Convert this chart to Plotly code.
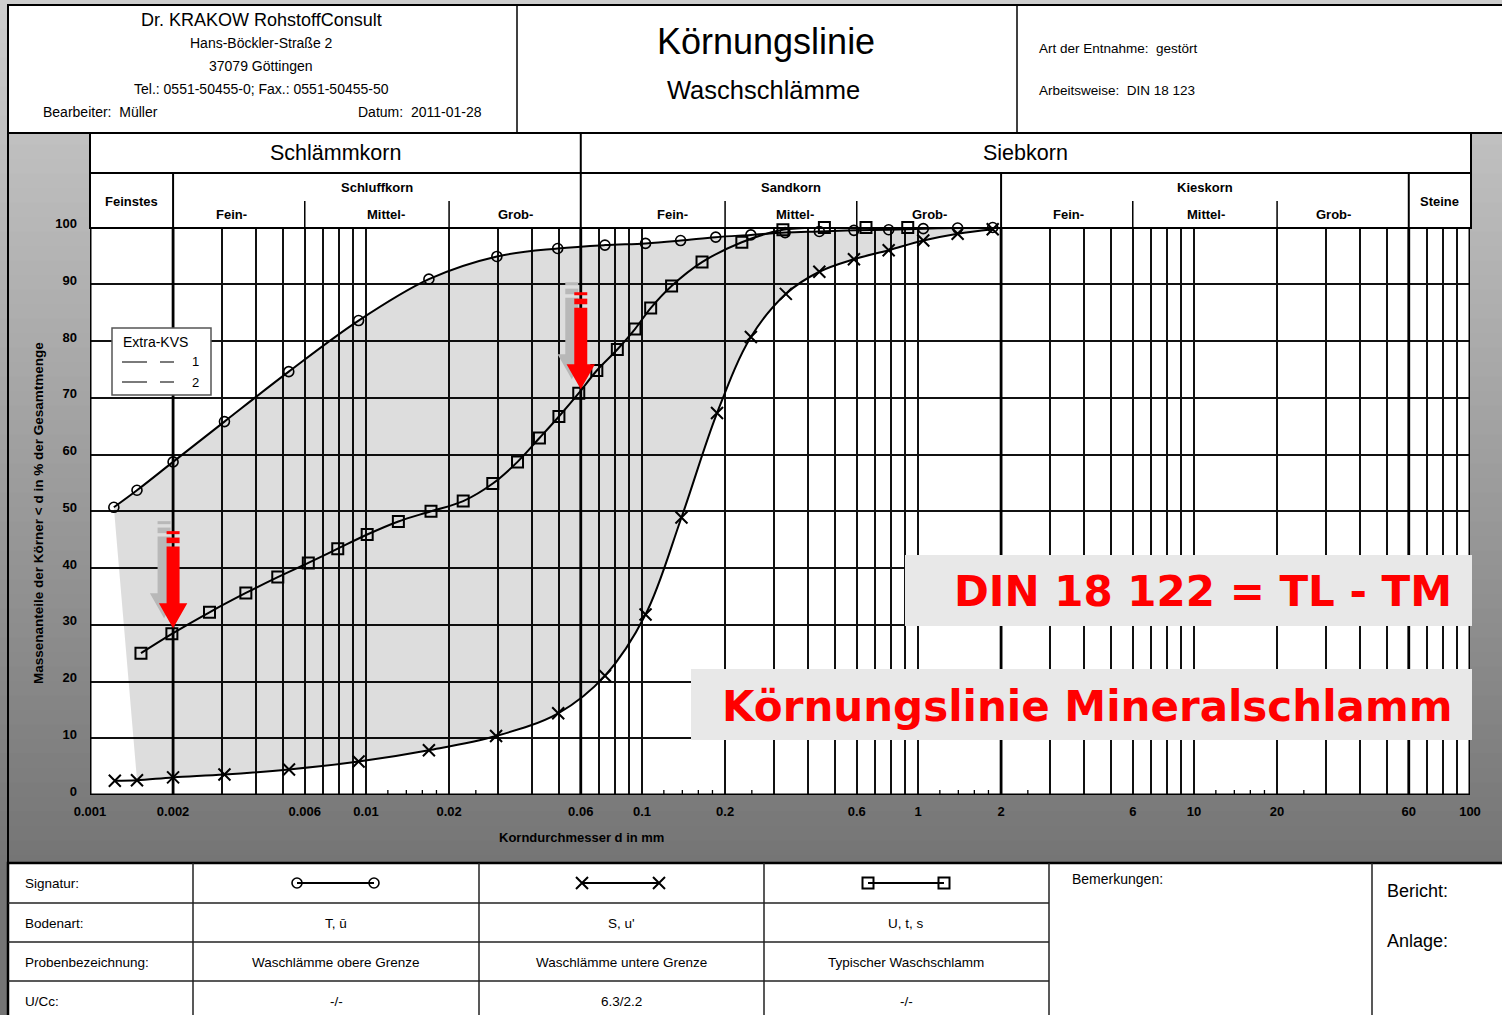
import math
import plotly.graph_objects as go

W, H = 1502, 1015
FONT = "Liberation Sans, Arial, Helvetica, sans-serif"
BIGFONT = "DejaVu Sans, Verdana, sans-serif"

# ---------------- data ----------------
# Waschlämme obere Grenze (circles)
upper_d = [0.00122, 0.00148, 0.002, 0.00307, 0.00525, 0.0094, 0.0169, 0.0298, 0.0495, 0.0734,
           0.103, 0.138, 0.185, 0.248, 0.330, 0.439, 0.586, 0.783, 1.045, 1.392, 1.865]
upper_pct = [50.7, 53.7, 58.7, 65.8, 74.6, 83.6, 90.9, 94.9, 96.3, 96.9,
             97.2, 97.7, 98.3, 98.7, 99.1, 99.3, 99.5, 99.6, 99.8, 99.9, 100.0]
# Waschlämme untere Grenze (crosses)
lower_d = [0.00123, 0.00148, 0.002, 0.00307, 0.00526, 0.0094, 0.0169, 0.0296, 0.0497, 0.0734,
           0.103, 0.139, 0.187, 0.248, 0.332, 0.439, 0.586, 0.783, 1.045, 1.392, 1.865]
lower_pct = [2.5, 2.6, 3.1, 3.6, 4.5, 5.9, 7.9, 10.4, 14.4, 21.0,
             31.8, 48.9, 67.3, 80.7, 88.3, 92.2, 94.4, 96.0, 97.7, 98.9, 99.7]
# Typischer Waschschlamm (squares)
typ_d = [0.00153, 0.00198, 0.00271, 0.00367, 0.00479, 0.00618, 0.0079, 0.0101, 0.0131, 0.0172,
         0.0225, 0.0288, 0.0354, 0.0425, 0.0500, 0.0590, 0.0686, 0.0814, 0.0943, 0.1075,
         0.128, 0.165, 0.230, 0.324, 0.458, 0.648, 0.918]
typ_pct = [25.0, 28.4, 32.2, 35.6, 38.4, 40.9, 43.4, 45.9, 48.2, 50.0,
           51.8, 54.9, 58.7, 62.9, 66.7, 70.8, 74.8, 78.5, 82.1, 85.8,
           89.7, 93.9, 97.4, 99.6, 100.0, 100.0, 100.0]

series_names = ["Waschlämme obere Grenze", "Waschlämme untere Grenze", "Typischer Waschschlamm"]
bodenart = ["T, ū", "S, u'", "U, t, s"]
u_cc = ["-/-", "6.3/2.2", "-/-"]
symbols = ["circle-open", "x-thin", "square-open"]

x_label_vals = [0.001, 0.002, 0.006, 0.01, 0.02, 0.06, 0.1, 0.2, 0.6, 1, 2, 6, 10, 20, 60, 100]
x_label_text = ["0.001", "0.002", "0.006", "0.01", "0.02", "0.06", "0.1", "0.2", "0.6",
                "1", "2", "6", "10", "20", "60", "100"]
y_tick_vals = [0, 10, 20, 30, 40, 50, 60, 70, 80, 90, 100]
minor_vals = [0.012, 0.014, 0.016, 0.018, 0.025, 0.12, 0.14, 0.16, 0.18, 0.25,
              1.2, 1.4, 1.6, 1.8, 2.5, 12, 14, 16, 18, 25]
main_bounds = [0.002, 0.06, 2, 60]
groups = [("Schlämmkorn", 0.001, 0.06), ("Siebkorn", 0.06, 100)]
fractions = [("Feinstes", 0.001, 0.002), ("Schluffkorn", 0.002, 0.06), ("Sandkorn", 0.06, 2),
             ("Kieskorn", 2, 60), ("Steine", 60, 100)]
sub_names = ["Fein-", "Mittel-", "Grob-"]
sub_ranges = [(0.002, 0.006, 0.02, 0.06), (0.06, 0.2, 0.6, 2), (2, 6, 20, 60)]
sub_label_px = [(232, 386, 515), (672, 795, 929), (1068, 1206, 1333)]
arrow_d = [0.002, 0.06]
arrow_pct = [29.4, 71.5]

# ---------------- helpers ----------------
def fx(p):
    return p / W

def fy(p):
    return 1 - p / H

shapes = []
ann = []

def rect(x0, y0, x1, y1, fill=None, lc=None, lw=0, layer="below"):
    shapes.append(dict(type="rect", xref="paper", yref="paper", x0=fx(x0), x1=fx(x1),
                       y0=fy(y1), y1=fy(y0), fillcolor=fill or "rgba(0,0,0,0)",
                       line=dict(color=lc or "rgba(0,0,0,0)", width=lw), layer=layer))

def pline(x0, y0, x1, y1, lc="black", lw=1.5, layer="below"):
    shapes.append(dict(type="line", xref="paper", yref="paper", x0=fx(x0), y0=fy(y0),
                       x1=fx(x1), y1=fy(y1), line=dict(color=lc, width=lw), layer=layer))

def xline(d, py0, py1, lw=1.5):
    shapes.append(dict(type="line", xref="x", yref="paper", x0=d, x1=d, y0=fy(py0), y1=fy(py1),
                       line=dict(color="black", width=lw), layer="below"))

def txt(x, y, s, size=12.5, anchor="center", bold=False, color="black", family=FONT,
        xref="paper", angle=0):
    ann.append(dict(x=fx(x) if xref == "paper" else x, y=fy(y), xref=xref, yref="paper",
                    text=s, showarrow=False, xanchor=anchor, yanchor="middle",
                    font=dict(family=family, size=size, color=color,
                              weight="bold" if bold else "normal"),
                    textangle=angle))

def lmid(a, b):
    return (math.log10(a) + math.log10(b)) / 2

# ---------------- background gradient ----------------
N = 70
for i in range(N):
    y0 = i * H / N
    y1 = (i + 1) * H / N
    g = int(round(206 - (206 - 116) * min(1.0, ((y0 + y1) / 2) / 870)))
    rect(-2, y0 - 0.5, W + 2, y1 + 0.5, fill=f"rgb({g},{g},{g})")

# left border of the form
pline(8, 5, 8, H, lw=2)

# top header box
rect(8, 5, 1530, 133, fill="white", lc="black", lw=2)
pline(517, 5, 517, 133, lw=1.5)
pline(1017, 5, 1017, 133, lw=1.5)

# chart header rows + plot background
rect(90, 133, 1471, 228, fill="white", lc="black", lw=2)
rect(90, 228, 1470, 795, fill="white")
pline(90, 173, 1471, 173, lw=2)
xline(0.06, 133, 228, 2)
for b in [0.002, 2, 60]:
    xline(b, 173, 228, 2)
for rng in sub_ranges:
    for b in rng[1:3]:
        xline(b, 201, 228, 1.5)

# bottom table
rect(8, 863, 1530, 1030, fill="white", lc="black", lw=2.5)
for yy in [903, 942, 981]:
    pline(8, yy, 1049, yy, lc="#222", lw=1.5)
for xx in [193, 479, 764, 1049, 1372]:
    pline(xx, 863, xx, H, lc="#222", lw=1.5)

# thick class boundaries within plot
for b in main_bounds:
    shapes.append(dict(type="line", xref="x", yref="y", x0=b, x1=b, y0=0, y1=100,
                       line=dict(color="black", width=2.8), layer="between"))
# small ticks at the bottom
for m in minor_vals:
    shapes.append(dict(type="line", xref="x", yref="y", x0=m, x1=m, ysizemode="pixel",
                       yanchor=0, y0=0, y1=5, line=dict(color="black", width=1.3),
                       layer="between"))
# plot frame
shapes.append(dict(type="rect", xref="x", yref="y", x0=0.001, x1=100, y0=0, y1=100,
                   line=dict(color="black", width=3), fillcolor="rgba(0,0,0,0)", layer="between"))

# legend box "Extra-KVS"
rect(112, 328, 211, 395, fill="white", lc="#555", lw=1.5, layer="above")
for yy in [362, 382]:
    pline(122, yy, 147, yy, lc="#222", lw=1.2, layer="above")
    pline(160, yy, 174, yy, lc="#222", lw=1.2, layer="above")

# arrows anchored on data points
def poly(pts):
    return "M " + " L ".join(f"{x:.1f},{y:.1f}" for x, y in pts) + " Z"

arrow_parts = [
    [(-6.5, 25), (-6.5, 81.6), (6.5, 81.6), (6.5, 25), (14.2, 25), (0, 0), (-14.2, 25)],
    [(-6.5, 85), (6.5, 85), (6.5, 90.6), (-6.5, 90.6)],
    [(-6.5, 94), (6.5, 94), (6.5, 97), (-6.5, 97)],
]
for d, p in zip(arrow_d, arrow_pct):
    for dx, dy, col in [(-9, 10, "#b8b8b8"), (0, 0, "#ff0000")]:
        for part in arrow_parts:
            shapes.append(dict(type="path", xref="x", yref="y", xsizemode="pixel",
                               ysizemode="pixel", xanchor=d, yanchor=p,
                               path=poly([(x + dx, y + dy) for x, y in part]),
                               fillcolor=col, line=dict(width=0), layer="above"))

# red label boxes
rect(905, 555, 1472, 626, fill="#e8e8e8", layer="above")
rect(691, 669, 1472, 740, fill="#e8e8e8", layer="above")

# ---------------- traces ----------------
fig = go.Figure()
# shaded band between upper and lower limit
fig.add_trace(go.Scatter(x=lower_d[1:], y=lower_pct[1:], mode="lines",
                         line=dict(width=0, shape="spline"), hoverinfo="skip", showlegend=False))
fig.add_trace(go.Scatter(x=upper_d, y=upper_pct, mode="lines", fill="tonexty",
                         fillcolor="rgba(0,0,0,0.135)", line=dict(width=0, shape="spline"),
                         hoverinfo="skip", showlegend=False))

marker_cfg = [dict(size=10, line=dict(width=1.6, color="black")),
              dict(size=12, line=dict(width=2, color="black")),
              dict(size=11, line=dict(width=2, color="black"))]
for (xd, yd), name, sym, mc in zip([(upper_d, upper_pct), (lower_d, lower_pct), (typ_d, typ_pct)],
                                   series_names, symbols, marker_cfg):
    fig.add_trace(go.Scatter(x=xd, y=yd, mode="lines+markers", name=name,
                             line=dict(color="black", width=2, shape="spline"),
                             marker=dict(symbol=sym, color="black", **mc),
                             cliponaxis=False, showlegend=False))

# signature samples in the table (page coordinate axes)
sig_x = [(297, 374), (582, 659), (868, 944)]
for (a, b), sym, mc in zip(sig_x, symbols, marker_cfg):
    fig.add_trace(go.Scatter(x=[a, b], y=[883, 883], mode="lines+markers", xaxis="x2", yaxis="y2",
                             line=dict(color="black", width=2),
                             marker=dict(symbol=sym, color="black", **mc),
                             hoverinfo="skip", showlegend=False, cliponaxis=False))

# ---------------- texts ----------------
NB = "\u00a0"
txt(261, 20, "Dr. KRAKOW RohstoffConsult", 18)
txt(261, 43, "Hans-Böckler-Straße 2", 14)
txt(261, 66, "37079 Göttingen", 14)
txt(261, 89, "Tel.: 0551-50455-0; Fax.: 0551-50455-50", 14)
txt(41, 112, f"Bearbeiter:{NB}{NB}Müller", 14, anchor="left")
txt(356, 112, f"Datum:{NB}{NB}2011-01-28", 14, anchor="left")
txt(766, 41, "Körnungslinie", 36)
txt(763, 90, "Waschschlämme", 25.5)
txt(1037, 48, f"Art der Entnahme:{NB}{NB}gestört", 13.5, anchor="left")
txt(1037, 91, f"Arbeitsweise:{NB}{NB}DIN 18 123", 13.5, anchor="left")

for name, a, b in groups:
    txt(lmid(a, b), 153, name, 21.5, xref="x")
for name, a, b in fractions:
    ypos = 187 if name in ("Schluffkorn", "Sandkorn", "Kieskorn") else 201
    txt(lmid(a, b), ypos, name, 13, bold=True, xref="x")
for pxs in sub_label_px:
    for name, xp in zip(sub_names, pxs):
        txt(xp, 215, name, 13, bold=True)

txt(38, 513, "Massenanteile der Körner &lt; d in % der Gesamtmenge", 13.5, bold=True, angle=-90)
txt(581, 837, "Korndurchmesser d in mm", 13, bold=True)

txt(121, 342, "Extra-KVS", 14, anchor="left")
txt(195, 362, "1", 13)
txt(195, 382, "2", 13)

txt(1454, 591, "DIN 18 122 = TL - TM", 42, anchor="right", bold=True,
    color="#ff0000", family=BIGFONT)
txt(1454, 706, "Körnungslinie Mineralschlamm", 42, anchor="right", bold=True, color="#ff0000",
    family=BIGFONT)

row_y = [883, 923, 962, 1001]
for yy, lab in zip(row_y, ["Signatur:", "Bodenart:", "Probenbezeichnung:", "U/Cc:"]):
    txt(23, yy, lab, 13.5, anchor="left")
col_c = [336, 621.5, 906.5]
for c, ba, nm, uc in zip(col_c, bodenart, series_names, u_cc):
    txt(c, 923, ba, 13.5)
    txt(c, 962, nm, 13.5)
    txt(c, 1001, uc, 13.5)
txt(1070, 879, "Bemerkungen:", 14, anchor="left")
txt(1385, 891, "Bericht:", 18, anchor="left")
txt(1385, 941, "Anlage:", 18, anchor="left")

# ---------------- axes ----------------
grid_vals = [round(k * 10 ** e, 6) for e in range(-3, 2) for k in range(1, 10)] + [100]
lab_map = {round(v, 6): t for v, t in zip(x_label_vals, x_label_text)}
grid_text = [lab_map.get(v, "") for v in grid_vals]

fig.update_layout(
    width=W, height=H, autosize=False,
    margin=dict(l=0, r=0, t=0, b=0, pad=0, autoexpand=False),
    paper_bgcolor="#b4b4b4", plot_bgcolor="rgba(0,0,0,0)",
    showlegend=False, hovermode=False,
    shapes=shapes, annotations=ann,
    xaxis=dict(type="log", range=[-3, 2], domain=[90 / W, 1470 / W], anchor="y",
               tickmode="array", tickvals=grid_vals, ticktext=grid_text,
               showgrid=True, gridcolor="#111111", gridwidth=1.6, ticks="",
               showline=False, zeroline=False, ticklabelstandoff=7, automargin=False,
               tickfont=dict(family=FONT, size=13, color="black", weight="bold"),
               fixedrange=True),
    yaxis=dict(range=[0, 100], domain=[1 - 795 / H, 1 - 227.5 / H], anchor="x",
               tickmode="array", tickvals=y_tick_vals,
               showgrid=True, gridcolor="#111111", gridwidth=1.6, ticks="",
               showline=False, zeroline=False, ticklabelstandoff=12, ticklabelshift=-4,
               automargin=False,
               tickfont=dict(family=FONT, size=13, color="black", weight="bold"),
               fixedrange=True),
    xaxis2=dict(domain=[0, 1], range=[0, W], anchor="y2", visible=False, fixedrange=True,
                automargin=False),
    yaxis2=dict(domain=[0, 1], range=[H, 0], anchor="x2", visible=False, fixedrange=True,
                automargin=False),
)

fig.write_html("out.html", config={"responsive": False, "displayModeBar": False},
               post_script="document.body.style.margin='0';document.body.style.overflow='hidden';")
